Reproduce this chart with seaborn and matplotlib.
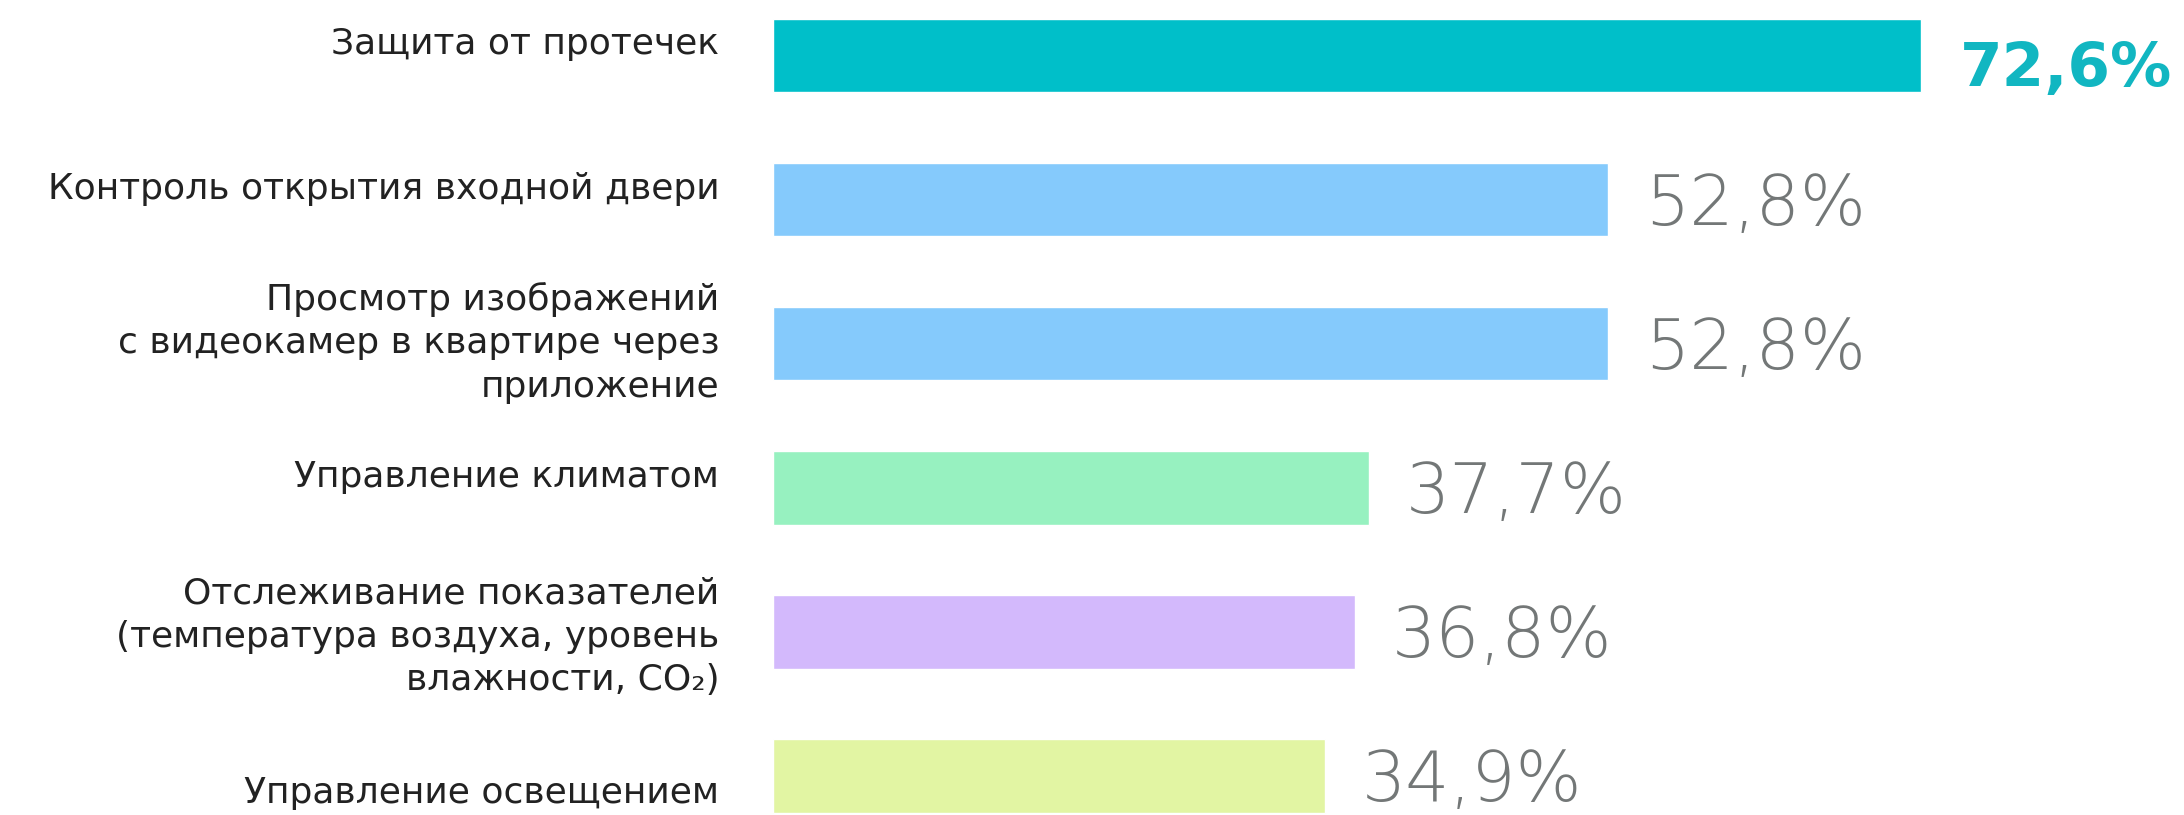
import matplotlib
matplotlib.use('Agg')
import pandas as pd
import seaborn as sns
import matplotlib.pyplot as plt
from matplotlib.transforms import ScaledTranslation

# Data
categories = ['Защита от протечек',
              'Контроль открытия входной двери',
              'Просмотр изображений\nс видеокамер в квартире через\nприложение',
              'Управление климатом',
              'Отслеживание показателей\n(температура воздуха, уровень\nвлажности, CO₂)',
              'Управление освещением']
values = [72.6, 52.8, 52.8, 37.7, 36.8, 34.9]
value_labels = ['72,6%', '52,8%', '52,8%', '37,7%', '36,8%', '34,9%']
colors = ['#00BFC9', '#85CAFC', '#85CAFC', '#97F1C0', '#D3B9FC', '#E2F5A3']

# small vertical nudges of the category labels (pixels, + is down)
label_nudge = [-11, -11, -1, -11, 5, 17]

df = pd.DataFrame({'Category': categories, 'Value': values})

sns.set_style('white')
plt.rcParams['font.family'] = ['DejaVu Sans']

fig = plt.figure(figsize=(21.84, 8.15), dpi=100)
ax = fig.add_axes([0.354, 0.0, 0.646, 1.0])

sns.barplot(data=df, x='Value', y='Category', hue='Category', palette=colors,
            legend=False, width=0.51, saturation=1, ax=ax)

ax.set_xlim(0, 89.2)
ax.set_ylim(5.27, -0.385)
ax.set_xlabel('')
ax.set_ylabel('')
ax.set_xticks([])
ax.set_yticks(range(len(categories)))
ax.set_yticklabels([])
ax.tick_params(axis='y', length=0)
sns.despine(ax=ax, left=True, bottom=True)

# Category labels
for i, (cat, dy) in enumerate(zip(categories, label_nudge)):
    tr = ax.get_yaxis_transform() + ScaledTranslation(-0.54, -dy / 100, fig.dpi_scale_trans)
    ax.text(0, i, cat, transform=tr, ha='right', va='center', fontsize=26,
            color='#222222', linespacing=1.35, multialignment='right')

# Value labels
for i, (v, txt) in enumerate(zip(values, value_labels)):
    if i == 0:
        ax.text(v + 2.4, i + 0.055, txt, va='center_baseline', ha='left', fontsize=44,
                fontweight='bold', color='#11B6C1')
    else:
        ax.text(v + 2.3, i + 0.04, txt, va='center', ha='left', fontsize=50,
                fontweight='light', color='#737777')

plt.savefig('out.png', dpi=100)
